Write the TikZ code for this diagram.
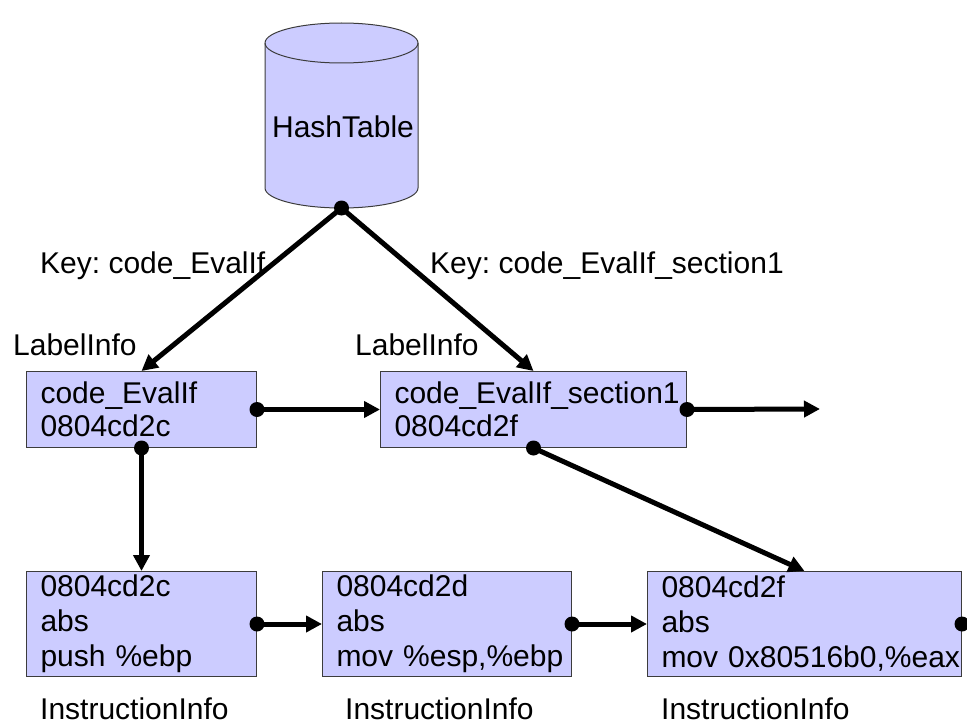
\documentclass[tikz,border=0pt]{standalone}
\usepackage{fontspec}
\setmainfont{Liberation Sans}
\usetikzlibrary{arrows.meta}
\definecolor{boxfill}{HTML}{CCCCFF}
\definecolor{boxline}{HTML}{3C3C3C}
\frenchspacing

\begin{document}
\begin{tikzpicture}[x=1pt,y=1pt,
  bigfont/.style={font=\fontsize{30}{33}\selectfont},
  txt/.style={bigfont, inner sep=0pt, anchor=base west},
  infobox/.style={bigfont, draw=boxline, line width=1pt, fill=boxfill,
    anchor=north west, align=left, inner xsep=14pt, inner ysep=0pt},
  instrbox/.style={infobox, font=\fontsize{30}{35}\selectfont, minimum height=105pt},
  link/.style={line width=5pt, -{Triangle[length=16pt,width=16pt]}},
  linkdot/.style={fill=black}]
\useasboundingbox (0,0) rectangle (967,-725);

% hash table drawn as a cylinder
\filldraw[fill=boxfill, draw=boxline, line width=1pt]
  (265,-43) -- (265,-188)
  arc[start angle=180, end angle=360, x radius=76.5, y radius=20]
  -- (418,-43)
  arc[start angle=0, end angle=180, x radius=76.5, y radius=20] -- cycle;
\draw[boxline, line width=1pt]
  (265,-43) arc[start angle=180, end angle=360, x radius=76.5, y radius=20];
\node[bigfont, inner sep=0pt, anchor=base] (ht) at (343,-137) {HashTable};
\coordinate (htb) at (341.5,-208);

% key labels and record captions
\node[txt] (key1) at (40,-273) {Key: code\_EvalIf};
\node[txt] (key2) at (430,-273) {Key: code\_EvalIf\_section1};
\node[txt] (lab1) at (13,-355) {LabelInfo};
\node[txt] (lab2) at (355,-355) {LabelInfo};
\node[txt] (cap1) at (40,-719) {InstructionInfo};
\node[txt] (cap2) at (345,-719) {InstructionInfo};
\node[txt] (cap3) at (661,-719) {InstructionInfo};

% LabelInfo records
\node[infobox, text width=202pt, minimum height=76pt] (l1) at (26,-371)
  {code\_EvalIf\\0804cd2c};
\node[infobox, text width=278pt, minimum height=76pt] (l2) at (380,-371)
  {\mbox{code\_EvalIf\_section1}\\0804cd2f};

% InstructionInfo records
\node[instrbox, text width=202pt] (i1) at (26,-571)
  {0804cd2c\\abs\\\mbox{push \%ebp}};
\node[instrbox, text width=221pt] (i2) at (322,-571)
  {0804cd2d\\abs\\\mbox{mov \%esp,\%ebp}};
\node[instrbox, text width=286pt] (i3) at (647,-571)
  {0804cd2f\\abs\\\mbox{mov 0x80516b0,\%eax}};

\coordinate (nxt) at (820,-409);

% pointers
\draw[link] (htb) -- (l1.north);
\draw[link] (htb) -- (l2.north);
\draw[link] (l1.east) -- (l2.west);
\draw[link] (l2.east) -- (nxt);
\draw[link] (l1.south) -- (i1.north);
\draw[link] (l2.south) -- (i3.north);
\draw[link] (i1.east) -- (i2.west);
\draw[link] (i2.east) -- (i3.west);

% pointer origins
\foreach \p in {htb, l1.east, l2.east, l1.south, l2.south, i1.east, i2.east, i3.east}
  \fill[linkdot] (\p) circle (7.5);
\end{tikzpicture}
\end{document}
